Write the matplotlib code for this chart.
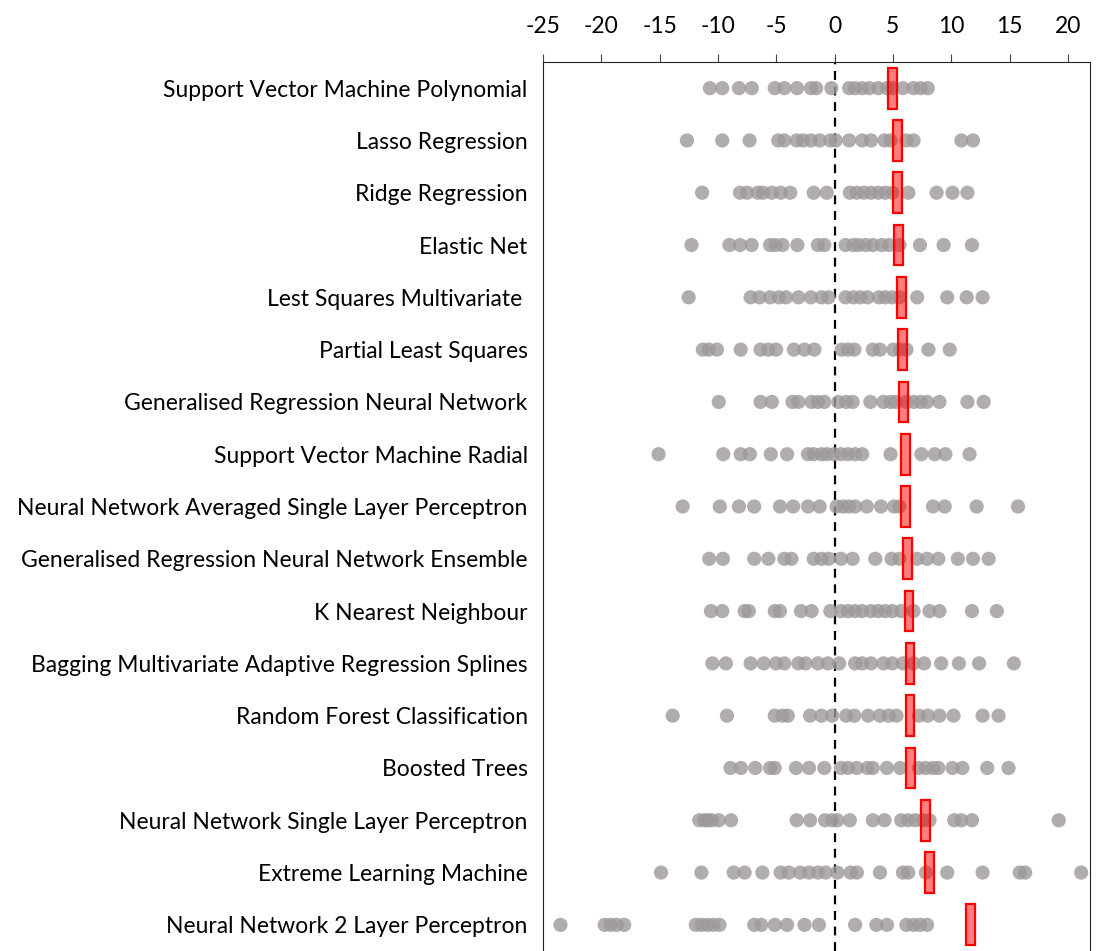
import numpy as np
import matplotlib
matplotlib.use("Agg")
import matplotlib.pyplot as plt

plt.rcParams["axes.unicode_minus"] = False
plt.rcParams["font.family"] = ["Lato", "DejaVu Sans"]

models = [
    "Support Vector Machine Polynomial",
    "Lasso Regression",
    "Ridge Regression",
    "Elastic Net",
    "Lest Squares Multivariate ",
    "Partial Least Squares",
    "Generalised Regression Neural Network",
    "Support Vector Machine Radial",
    "Neural Network Averaged Single Layer Perceptron",
    "Generalised Regression Neural Network Ensemble",
    "K Nearest Neighbour",
    "Bagging Multivariate Adaptive Regression Splines",
    "Random Forest Classification",
    "Boosted Trees",
    "Neural Network Single Layer Perceptron",
    "Extreme Learning Machine",
    "Neural Network 2 Layer Perceptron",
]

means = [4.95, 5.41, 5.41, 5.50, 5.71, 5.80, 5.92, 6.10, 6.10,
         6.23, 6.38, 6.47, 6.47, 6.50, 7.80, 8.17, 11.66]

svm_poly = [-10.69, -9.63, -8.2, -7.1, -5.13, -4.31, -3.22, -2.03, -1.58, -0.27,
            1.25, 1.76, 2.37, 2.98, 3.74, 4.49, 4.95, 5.86, 6.77, 7.38, 7.99]
lasso = [-12.66, -9.63, -7.29, -4.83, -4.31, -3.25, -2.70, -2.03, -1.28, -0.36,
         0.09, 1.25, 2.37, 3.13, 4.28, 4.80, 6.16, 6.77, 10.87, 11.87]
ridge = [-11.36, -8.11, -7.5, -6.59, -6.13, -5.38, -4.62, -3.80, -1.79, -0.67,
         1.31, 1.91, 2.52, 3.13, 3.74, 4.34, 4.95, 6.32, 8.75, 10.11, 11.39]
elastic = [-12.27, -9.02, -8.11, -7.11, -5.53, -5.07, -4.46, -3.19, -1.43, -0.88,
           0.94, 1.61, 2.07, 2.67, 3.28, 4.04, 4.65, 5.56, 7.32, 9.35, 11.78]
lsm = [-12.51, -7.20, -6.44, -5.53, -4.77, -4.16, -3.10, -2.03, -1.12, -0.52,
       0.94, 1.61, 2.22, 2.82, 3.80, 4.34, 4.95, 5.56, 7.08, 9.66, 11.33, 12.69]
pls = [-11.30, -10.78, -10.08, -8.05, -6.35, -5.68, -5.01, -3.49, -2.58, -1.73,
       0.61, 1.15, 1.70, 3.28, 3.89, 5.04, 5.62, 6.16, 8.05, 9.87]
grnn = [-9.93, -6.35, -5.38, -3.61, -3.10, -1.97, -1.43, -0.88, 0.33, 1.00, 1.55,
        3.07, 4.19, 4.80, 5.25, 6.16, 6.77, 7.38, 7.93, 8.99, 11.39, 12.78]
svm_rad = [-15.09, -9.54, -8.05, -7.26, -5.47, -4.07, -2.28, -1.79, -1.12, -0.67,
           -0.06, 0.55, 1.15, 1.76, 2.37, 4.80, 7.44, 8.59, 9.50, 11.57]
nn_avg = [-13.03, -9.84, -8.2, -6.89, -4.68, -3.55, -2.28, -1.28, 0.18, 0.76,
          1.25, 1.76, 2.76, 3.98, 5.10, 5.56, 8.44, 9.44, 12.18, 15.73]
grnn_ens = [-10.75, -9.57, -6.89, -5.68, -4.31, -3.70, -1.79, -1.12, -0.52, 0.55,
            1.55, 3.49, 4.89, 5.56, 7.08, 7.93, 8.90, 10.57, 11.87, 13.21]
knn = [-10.6, -9.63, -7.71, -7.35, -5.13, -4.68, -2.88, -1.97, -0.36, 0.55, 1.15,
       1.76, 2.37, 3.13, 3.74, 4.34, 4.95, 5.71, 6.77, 8.14, 8.99, 11.78, 13.91]
bag_mars = [-10.48, -9.32, -7.2, -6.07, -5.01, -4.31, -3.10, -2.49, -1.43, -0.58,
            0.39, 1.76, 2.37, 3.13, 4.19, 4.95, 5.86, 6.77, 7.68, 9.14, 10.66,
            12.39, 15.37]
rf = [-13.88, -9.23, -5.13, -4.46, -4.01, -2.10, -1.12, -0.21, 1.00, 1.70, 2.88,
      3.89, 4.65, 5.31, 7.23, 7.99, 8.99, 10.20, 12.69, 14.06]
boosted = [-8.93, -8.02, -6.80, -5.53, -5.13, -3.31, -2.19, -0.88, 0.55, 1.15,
           1.91, 2.82, 3.28, 4.49, 5.62, 7.23, 7.83, 8.44, 8.90, 10.11, 10.96,
           13.09, 14.91]
nn_slp = [-11.6, -11.14, -10.9, -10.54, -9.93, -8.87, -3.25, -2.10, -0.82, -0.21,
          0.24, 1.31, 3.28, 4.28, 5.71, 6.32, 6.92, 7.53, 8.14, 10.26, 10.87,
          11.78, 19.22]
elm = [-14.88, -11.42, -8.65, -7.71, -6.19, -4.62, -3.92, -2.95, -2.19, -1.43,
       -0.76, 0.24, 1.37, 1.91, 3.89, 5.86, 6.32, 7.83, 9.66, 12.69, 15.88,
       16.34, 21.14]
nn_2lp = [-23.5, -19.71, -19.19, -18.68, -18.04, -11.9, -11.39, -10.9, -10.39,
          -9.87, -6.89, -6.29, -5.13, -4.07, -2.58, -1.34, 1.76, 3.58, 4.49, 6.16,
          6.77, 7.32, 7.93]

points = [svm_poly, lasso, ridge, elastic, lsm, pls, grnn, svm_rad, nn_avg,
          grnn_ens, knn, bag_mars, rf, boosted, nn_slp, elm, nn_2lp]

fig = plt.figure(figsize=(10.97, 9.51), dpi=100)
ax = fig.add_axes([543 / 1097, 0.0, (1090 - 543) / 1097, 1 - 62 / 951])

for i, vals in enumerate(points):
    ax.scatter(vals, [i] * len(vals), s=105, color="#9e9999", alpha=0.8,
               edgecolors="none", zorder=2)

# red box marks the mean error of each model
ax.barh(range(len(models)), [0.75] * len(models),
        left=[m - 0.375 for m in means], height=0.78,
        facecolor=(1, 0, 0, 0.5), edgecolor="red", linewidth=1.6, zorder=3)

ax.axvline(0, color="black", linestyle=(0, (4, 3)), linewidth=1.6, zorder=1)

ax.set_xlim(-25, 21.9)
ax.set_ylim(len(models) - 0.5, -0.5)
ax.set_xticks(range(-25, 21, 5))
ax.xaxis.tick_top()
ax.tick_params(axis="x", direction="out", length=6, pad=12, labelsize=16.5,
               color="#444444")
ax.set_yticks(range(len(models)))
ax.set_yticklabels(models, fontsize=16.5)
ax.tick_params(axis="y", length=0, pad=11)
for s in ax.spines.values():
    s.set_color("#222222")
ax.spines["bottom"].set_visible(False)

fig.savefig("out.png", dpi=100)
